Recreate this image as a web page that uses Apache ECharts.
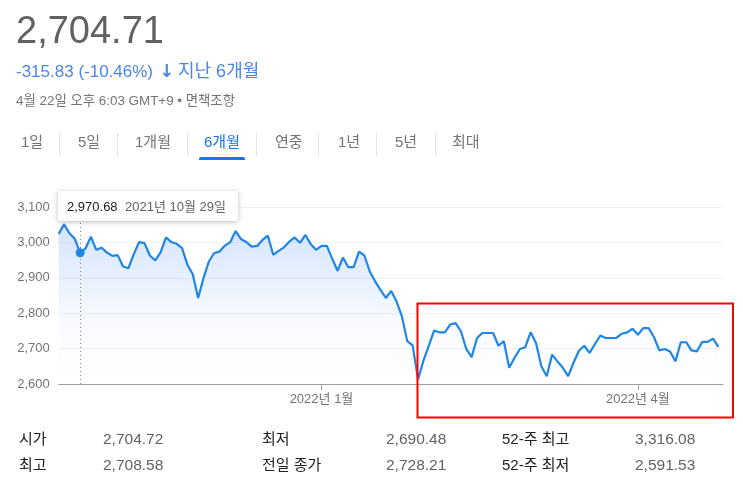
<!DOCTYPE html>
<html><head><meta charset="utf-8">
<script src="https://cdn.jsdelivr.net/npm/echarts@6/dist/echarts.min.js"></script>
<style>html,body{margin:0;padding:0;background:#fff}#c{width:743px;height:490px}</style>
</head><body><div id="c"></div>
<script>
// ---- data ----
const dates = [
 '2021-10-25','2021-10-26','2021-10-27','2021-10-28','2021-10-29',
 '2021-11-01','2021-11-02','2021-11-03','2021-11-04','2021-11-05','2021-11-08','2021-11-09','2021-11-10','2021-11-11','2021-11-12',
 '2021-11-15','2021-11-16','2021-11-17','2021-11-18','2021-11-19','2021-11-22','2021-11-23','2021-11-24','2021-11-25','2021-11-26','2021-11-29','2021-11-30',
 '2021-12-01','2021-12-02','2021-12-03','2021-12-06','2021-12-07','2021-12-08','2021-12-09','2021-12-10','2021-12-13','2021-12-14','2021-12-15',
 '2021-12-16','2021-12-17','2021-12-20','2021-12-21','2021-12-22','2021-12-23','2021-12-24','2021-12-27','2021-12-28','2021-12-29','2021-12-30',
 '2022-01-03','2022-01-04','2022-01-05','2022-01-06','2022-01-07','2022-01-10','2022-01-11','2022-01-12','2022-01-13','2022-01-14',
 '2022-01-17','2022-01-18','2022-01-19','2022-01-20','2022-01-21','2022-01-24','2022-01-25','2022-01-26','2022-01-27','2022-01-28',
 '2022-02-03','2022-02-04','2022-02-07','2022-02-08','2022-02-09','2022-02-10','2022-02-11','2022-02-14','2022-02-15','2022-02-16',
 '2022-02-17','2022-02-18','2022-02-21','2022-02-22','2022-02-23','2022-02-24','2022-02-25','2022-02-28',
 '2022-03-02','2022-03-03','2022-03-04','2022-03-07','2022-03-08','2022-03-10','2022-03-11','2022-03-14','2022-03-15','2022-03-16',
 '2022-03-17','2022-03-18','2022-03-21','2022-03-22','2022-03-23','2022-03-24','2022-03-25','2022-03-28','2022-03-29','2022-03-30','2022-03-31',
 '2022-04-01','2022-04-04','2022-04-05','2022-04-06','2022-04-07','2022-04-08','2022-04-11','2022-04-12','2022-04-13','2022-04-14',
 '2022-04-15','2022-04-18','2022-04-19','2022-04-20','2022-04-21','2022-04-22'
];
const closes = [
 3024,3051,3026,3010,2970.68,
 2983,3016,2979,2985,2971,2962,2964,2932,2927,2967,
 3001,2998,2963,2949,2972,3014,3001,2996,2984,2937,2910,2843,
 2899,2946,2970,2974,2991,3001,3032,3009,3001,2988,2990,
 3007,3019,2965,2976,2986,3002,3014,2999,3021,2995,2979,
 2990,2990,2954,2920,2957,2930,2930,2974,2963,2918,
 2890,2866,2843,2863,2833,2791,2721,2709,2613,2665,
 2708,2751,2746,2746,2768,2772,2749,2699,2676,2730,
 2744,2744,2744,2708,2721,2646,2674,2699,
 2704,2746,2716,2650,2622,2683,2664,2646,2622,2660,
 2694,2708,2688,2713,2737,2730,2730,2730,2742,2746,2756,
 2739,2758,2758,2732,2695,2699,2692,2664,2718,2718,
 2695,2692,2719,2719,2728.21,2704.71
];
const yMin = 2600, yMax = 3100, yStep = 100;
const xTickIndex = [49, 108];
const xTickLabels = ['2022년 1월', '2022년 4월'];
const hoverIndex = 4;
const price = '2,704.71';
const change = '-315.83 (-10.46%)';
const periodText = '지난 6개월';
const stampText = '4월 22일 오후 6:03 GMT+9 • 면책조항';
const tabs = ['1일','5일','1개월','6개월','연중','1년','5년','최대'];
const activeTab = 3;
const statLabels = [['시가','최저','52-주 최고'],['최고','전일 종가','52-주 최저']];
const statValues = [['2,704.72','2,690.48','3,316.08'],['2,708.58','2,728.21','2,591.53']];

// ---- layout ----
const FONT = "'Liberation Sans', Arial, 'Noto Sans CJK KR', sans-serif";
const fmt = v => Number(v).toLocaleString('en-US', {maximumFractionDigits: 2, minimumFractionDigits: 0});
const fmt2 = v => Number(v).toLocaleString('en-US', {minimumFractionDigits: 2, maximumFractionDigits: 2});
const koDate = s => { const p = s.split('-'); return p[0] + '년 ' + (+p[1]) + '월 ' + (+p[2]) + '일'; };

const seriesData = closes.map((v, i) => [i, v]);
const graphics = [];
function txt(x, y, text, size, fill, extra) {
  graphics.push({type: 'text', z: 100, style: Object.assign({x, y, text, fontSize: size, fontFamily: FONT, fill, verticalAlign: 'middle', align: 'left'}, extra || {})});
}
txt(16, 33, price, 38, '#616161');
txt(16, 72, change, 17, '#4a86e8');
txt(159, 72, '↓', 18, '#4a86e8', {fontWeight: 'bold', fontFamily: "'DejaVu Sans', sans-serif"});
txt(178, 72, periodText, 18, '#4a86e8');
txt(16, 101, stampText, 13.4, '#70757a');

const tabX = [21, 78, 135, 204, 275, 338, 395, 452];
const sepX = [59.5, 117.5, 187.5, 256.5, 318.5, 376.5, 435.5];
tabs.forEach((t, i) => txt(tabX[i], 143, t, 15, i === activeTab ? '#1a73e8' : '#70757a'));
sepX.forEach(x => graphics.push({type: 'line', z: 100, shape: {x1: x, y1: 133, x2: x, y2: 156}, style: {stroke: '#e3e3e3', lineWidth: 1}}));
graphics.push({type: 'rect', z: 100, shape: {x: 199, y: 157, width: 46, height: 3, r: [2, 2, 0, 0]}, style: {fill: '#1a73e8'}});

const colLabelX = [19, 262, 502], colValueX = [103, 386, 635], rowY = [440, 466];
statLabels.forEach((row, r) => row.forEach((l, c) => {
  txt(colLabelX[c], rowY[r], l, 15, '#202124');
  txt(colValueX[c], rowY[r], statValues[r][c], 15.5, '#5f6368');
}));

// tooltip box
graphics.push({type: 'rect', z: 110, shape: {x: 58, y: 191, width: 180, height: 30, r: 2},
  style: {fill: '#fff', shadowBlur: 5, shadowColor: 'rgba(0,0,0,0.28)', shadowOffsetY: 1}});
graphics.push({type: 'text', z: 111, style: {x: 67, y: 207, text: fmt2(closes[hoverIndex]), fontSize: 13, fontFamily: FONT, fill: '#202124', verticalAlign: 'middle'}});
graphics.push({type: 'text', z: 111, style: {x: 125, y: 207, text: koDate(dates[hoverIndex]), fontSize: 13, fontFamily: FONT, fill: '#5f6368', verticalAlign: 'middle'}});

// red annotation box
graphics.push({type: 'rect', z: 120, shape: {x: 417.5, y: 303.5, width: 315.5, height: 114}, style: {fill: 'none', stroke: '#ff0000', lineWidth: 2}});

const chart = echarts.init(document.getElementById('c'), null, {renderer: 'canvas'});
chart.setOption({
  animation: false,
  backgroundColor: '#fff',
  grid: {left: 58.7, right: 20, top: 207, bottom: 106, containLabel: false},
  xAxis: {
    type: 'value', min: 0, max: 123.87,
    axisLine: {show: true, lineStyle: {color: '#9aa0a6', width: 1}},
    axisTick: {show: true, customValues: xTickIndex, length: 6, lineStyle: {color: '#9aa0a6'}},
    axisLabel: {show: true, customValues: xTickIndex, margin: 9, color: '#70757a', fontSize: 13, fontFamily: FONT,
      formatter: v => xTickLabels[xTickIndex.indexOf(Math.round(v))] || ''},
    splitLine: {show: false}
  },
  yAxis: {
    type: 'value', min: yMin, max: yMax, interval: yStep,
    axisLine: {show: false}, axisTick: {show: false},
    axisLabel: {color: '#70757a', fontSize: 13, fontFamily: FONT, margin: 9, formatter: v => fmt(v)},
    splitLine: {show: true, lineStyle: {color: '#f1f1f1', width: 1}}
  },
  series: [{
    type: 'line', data: seriesData, showSymbol: false, smooth: false,
    lineStyle: {color: '#1f86e6', width: 2.2},
    itemStyle: {color: '#1f86e6'},
    areaStyle: {color: new echarts.graphic.LinearGradient(0, 0, 0, 1, [
      {offset: 0, color: 'rgba(66,133,244,0.32)'},
      {offset: 0.6, color: 'rgba(66,133,244,0.06)'},
      {offset: 1, color: 'rgba(66,133,244,0)'}
    ])},
    markLine: {silent: true, symbol: 'none', label: {show: false},
      lineStyle: {color: '#8a8a8a', type: [1, 3], width: 1},
      data: [{xAxis: hoverIndex}]},
    markPoint: {silent: true, symbol: 'circle', symbolSize: 9, label: {show: false},
      itemStyle: {color: '#1f86e6'},
      data: [{coord: [hoverIndex, closes[hoverIndex]]}]}
  }],
  graphic: graphics
});
</script></body></html>
